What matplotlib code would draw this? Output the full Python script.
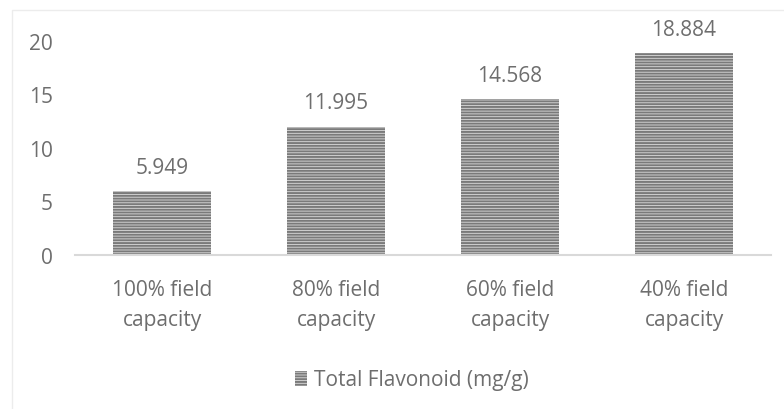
import matplotlib.pyplot as plt
from matplotlib.patches import Rectangle

plt.rcParams['font.family'] = ['Open Sans', 'DejaVu Sans']
plt.rcParams['hatch.color'] = '#7a7a7a'
plt.rcParams['hatch.linewidth'] = 1.4

# Flavonoid content under different irrigation levels
categories = ['100% field\ncapacity', '80% field\ncapacity',
              '60% field\ncapacity', '40% field\ncapacity']
flavonoid = [5.949, 11.995, 14.568, 18.884]
series_name = 'Total Flavonoid (mg/g)'

textc = '#6e6e6e'

fig = plt.figure(figsize=(7.84, 4.10), dpi=100)
# faint chart-area border
fig.patches.append(Rectangle((12 / 784, -0.05), 1.0, 1 - 11 / 410 + 0.05,
                             transform=fig.transFigure, fill=False,
                             edgecolor='#ececec', linewidth=1.0))

ax = fig.add_axes([75 / 784, 154 / 410, 696 / 784, 214 / 410])
x = range(len(categories))
bars = ax.bar(x, flavonoid, width=0.565, color='#dcdcdc', linewidth=0.0,
              hatch='------', label=series_name)

for rect, v in zip(bars, flavonoid):
    ax.annotate('{0:.3f}'.format(v), (rect.get_x() + rect.get_width() / 2, v),
                xytext=(0, 9.5), textcoords='offset points', ha='center',
                va='bottom', fontsize=15, color=textc)

ax.set_xlim(-0.5, len(categories) - 0.5)
ax.set_ylim(0, 20)
ax.set_yticks([0, 5, 10, 15, 20])
ax.set_xticks(list(x))
ax.set_xticklabels(categories, linespacing=1.6)
ax.tick_params(length=0, colors=textc, labelsize=15)
ax.tick_params(axis='x', pad=17)
ax.tick_params(axis='y', pad=16)

for s in ['top', 'right', 'left']:
    ax.spines[s].set_visible(False)
ax.spines['bottom'].set_color('#d9d9d9')
ax.spines['bottom'].set_linewidth(1.5)

fig.legend(loc='center', bbox_to_anchor=(412 / 784, 1 - 381 / 410),
           frameon=False, fontsize=15, labelcolor=textc, handlelength=0.55,
           handleheight=0.75, handletextpad=0.35)

fig.savefig('out.png', dpi=100)
